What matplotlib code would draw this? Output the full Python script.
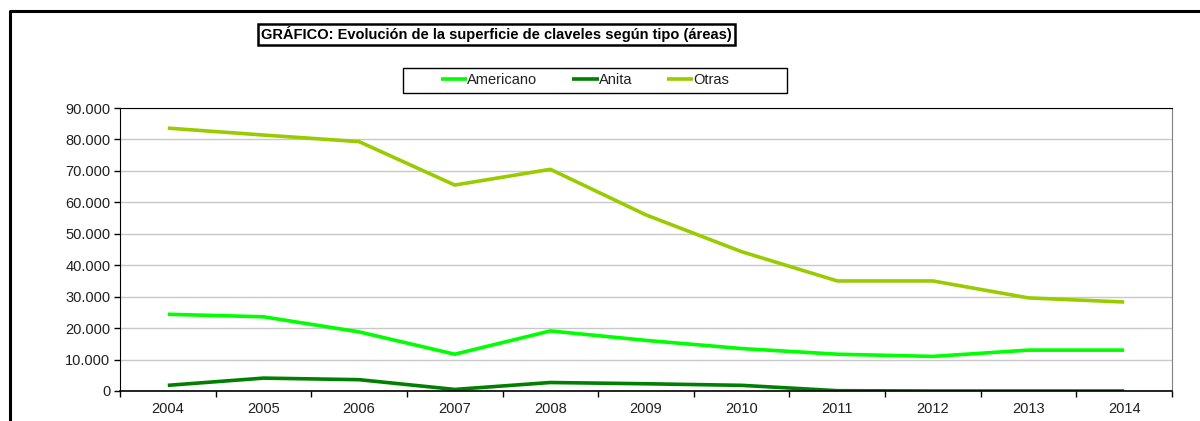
import matplotlib
matplotlib.use("Agg")
import matplotlib.pyplot as plt
from matplotlib.lines import Line2D
from matplotlib.patches import Rectangle
from matplotlib.ticker import FuncFormatter, FixedLocator

plt.rcParams["font.family"] = ["Liberation Sans", "DejaVu Sans"]

# ── data ──────────────────────────────────────────────────────────────────────
years = ["2004", "2005", "2006", "2007", "2008", "2009", "2010",
         "2011", "2012", "2013", "2014"]
americano = [24400, 23600, 18800, 11700, 19100, 16100, 13500,
             11700, 11000, 13000, 13000]
anita = [1800, 4100, 3600, 500, 2700, 2300, 1800, 100, 0, 0, 0]
otras = [83600, 81400, 79300, 65500, 70500, 56000, 44300,
         35000, 35000, 29600, 28300]

series = [("Americano", americano, "#00FF00"),
          ("Anita", anita, "#008000"),
          ("Otras", otras, "#99CC00")]

W, H = 1200, 421
fig = plt.figure(figsize=(12, 4.21), dpi=100)

# outer chart border (left and top only, the rest is cropped)
fig.add_artist(Line2D([9.5 / W, 9.5 / W, 1.0], [0, 1 - 11 / H, 1 - 11 / H],
                      transform=fig.transFigure, color="black", lw=2.2))

ax = fig.add_axes([120 / W, 1 - 391 / H, (1172 - 120) / W, (391 - 108) / H])
x = list(range(len(years)))
for name, vals, col in series:
    ax.plot(x, vals, color=col, lw=2.6, label=name, solid_capstyle="butt")

ax.set_xlim(-0.5, len(years) - 0.5)
ax.set_ylim(0, 90000)
ax.yaxis.set_major_locator(FixedLocator(range(0, 90001, 10000)))
ax.yaxis.set_major_formatter(FuncFormatter(lambda v, p: f"{int(v):,}".replace(",", ".")))
ax.set_xticks(x)
ax.set_xticklabels(years)
ax.set_xticks([i - 0.5 for i in range(len(years) + 1)], minor=True)
ax.tick_params(axis="x", which="major", length=0, pad=8, labelsize=10.5)
ax.tick_params(axis="x", which="minor", length=4, direction="out", width=1)
ax.tick_params(axis="y", length=4, direction="out", width=1, labelsize=10.5, pad=3)
for lab in ax.get_xticklabels() + ax.get_yticklabels():
    lab.set_color("#202020")
ax.grid(axis="y", color="#C8C8C8", lw=1)
ax.set_axisbelow(True)
ax.spines["left"].set_color("black")
ax.spines["bottom"].set_color("black")
ax.spines["bottom"].set_linewidth(1.2)
ax.spines["top"].set_color("black")
ax.spines["right"].set_color("#808080")

fig.text(496.5 / W, 1 - 34.5 / H,
         "GRÁFICO: Evolución de la superficie de claveles según tipo (áreas)",
         ha="center", va="center", fontsize=10.5, fontweight="bold",
         bbox=dict(boxstyle="square,pad=0.2", fc="white", ec="black", lw=1.8))

# legend box drawn separately: Excel leaves more room on the sides
fig.add_artist(Rectangle((403 / W, 1 - 93 / H), (787 - 403) / W, (93 - 68) / H,
                         transform=fig.transFigure, fc="white", ec="black", lw=1.0))
leg = fig.legend(loc="center", bbox_to_anchor=(585 / W, 1 - 80.5 / H),
                 ncol=3, fontsize=10.5, frameon=False,
                 handlelength=1.8, handletextpad=0.0,
                 columnspacing=2.4, borderpad=0.0, borderaxespad=0)
for t in leg.get_texts():
    t.set_color("#202020")

fig.savefig("out.png", dpi=100)
